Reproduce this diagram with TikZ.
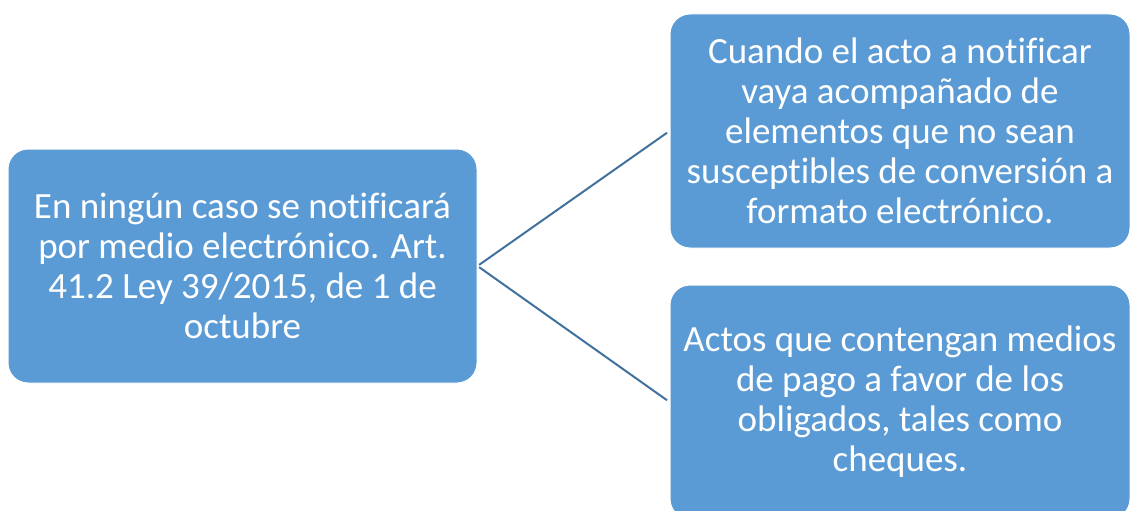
\documentclass[tikz,border=0pt]{standalone}
\usepackage{fontspec}
\setmainfont{Carlito}[Ligatures=NoCommon]
\usetikzlibrary{positioning}

\definecolor{cajaazul}{HTML}{5B9BD5}
\definecolor{lineaazul}{HTML}{41719C}

\tikzset{
  caja/.style={rectangle, rounded corners=20pt, fill=cajaazul, draw=white, line width=1pt,
    text=white, align=center, inner sep=0pt,
    font=\fontsize{37}{40}\selectfont},
  enlace/.style={draw=lineaazul, line width=2pt, shorten <=2pt, shorten >=3pt}
}

\begin{document}
\begin{tikzpicture}[x=1pt, y=-1pt]
\useasboundingbox (0,0) rectangle (1130,511);

% Caja principal
\node[caja, minimum width=469pt, minimum height=234pt] (izq) at (242.5,266)
  {En ningún caso se notificará\\por medio electrónico. Art.\\41.2 Ley 39/2015, de 1 de\\octubre};

% Supuestos
\node[caja, minimum width=460pt, minimum height=234pt] (sup) at (900,131)
  {Cuando el acto a notificar\\vaya acompañado de\\elementos que no sean\\susceptibles de conversión a\\formato electrónico.};
\node[caja, minimum width=460pt, minimum height=234pt] (inf) at (900,402)
  {Actos que contengan medios\\de pago a favor de los\\obligados, tales como\\cheques.};

% Conectores
\draw[enlace] (izq.east) -- (sup.west);
\draw[enlace] (izq.east) -- (inf.west);

\end{tikzpicture}
\end{document}
